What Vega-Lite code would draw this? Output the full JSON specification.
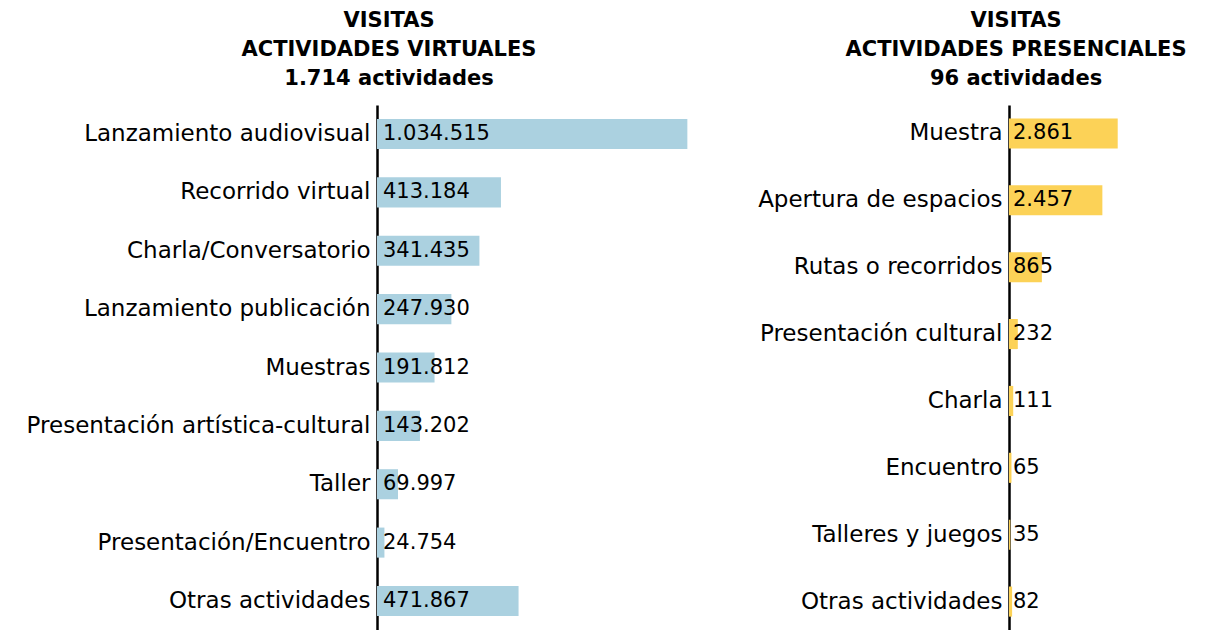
{
  "$schema": "https://vega.github.io/schema/vega-lite/v6.json",
  "padding": {"left": 26, "top": 10, "right": 5, "bottom": 0},
  "config": {
    "view": {"stroke": null},
    "font": "DejaVu Sans",
    "locale": {"number": {"decimal": ",", "thousands": ".", "grouping": [3], "currency": ["$", ""]}},
    "concat": {"spacing": 50},
    "title": {"fontSize": 21, "fontWeight": "bold", "lineHeight": 29, "color": "black", "anchor": "middle", "offset": 16}
  },
  "hconcat": [
    {
      "data": {"values": [
        {"actividad": "Lanzamiento audiovisual", "visitas": 1034515},
        {"actividad": "Recorrido virtual", "visitas": 413184},
        {"actividad": "Charla/Conversatorio", "visitas": 341435},
        {"actividad": "Lanzamiento publicación", "visitas": 247930},
        {"actividad": "Muestras", "visitas": 191812},
        {"actividad": "Presentación artística-cultural", "visitas": 143202},
        {"actividad": "Taller", "visitas": 69997},
        {"actividad": "Presentación/Encuentro", "visitas": 24754},
        {"actividad": "Otras actividades", "visitas": 471867}
      ]},
      "width": 330,
      "height": 525,
      "title": {"text": ["VISITAS", "ACTIVIDADES VIRTUALES", "1.714 actividades"], "dx": -153},
      "encoding": {
        "y": {"field": "actividad", "type": "nominal", "sort": null,
          "scale": {"paddingInner": 0.485, "paddingOuter": 0.24},
          "axis": {"title": null, "ticks": false, "labelFontSize": 23, "labelColor": "black", "labelPadding": 7, "labelLimit": 0, "domainColor": "black", "domainWidth": 2.5}}
      },
      "layer": [
        {"mark": {"type": "bar", "color": "#abd1e0"},
         "encoding": {"x": {"field": "visitas", "type": "quantitative", "scale": {"domain": [0, 1070000]}, "axis": null}}},
        {"mark": {"type": "text", "align": "left", "dx": 6, "fontSize": 21, "color": "black"},
         "encoding": {"x": {"datum": 0, "type": "quantitative"},
           "text": {"field": "visitas", "type": "quantitative", "format": ",d"}}}
      ]
    },
    {
      "data": {"values": [
        {"actividad": "Muestra", "visitas": 2861},
        {"actividad": "Apertura de espacios", "visitas": 2457},
        {"actividad": "Rutas o recorridos", "visitas": 865},
        {"actividad": "Presentación cultural", "visitas": 232},
        {"actividad": "Charla", "visitas": 111},
        {"actividad": "Encuentro", "visitas": 65},
        {"actividad": "Talleres y juegos", "visitas": 35},
        {"actividad": "Otras actividades", "visitas": 82}
      ]},
      "width": 190,
      "height": 525,
      "title": {"text": ["VISITAS", "ACTIVIDADES PRESENCIALES", "96 actividades"], "dx": -88},
      "encoding": {
        "y": {"field": "actividad", "type": "nominal", "sort": null,
          "scale": {"paddingInner": 0.55, "paddingOuter": 0.2},
          "axis": {"title": null, "ticks": false, "labelFontSize": 23, "labelColor": "black", "labelPadding": 7, "labelLimit": 0, "domainColor": "black", "domainWidth": 2.5}}
      },
      "layer": [
        {"mark": {"type": "bar", "color": "#fcd257"},
         "encoding": {"x": {"field": "visitas", "type": "quantitative", "scale": {"domain": [0, 4570]}, "axis": null}}},
        {"mark": {"type": "text", "align": "left", "dx": 4, "fontSize": 21, "color": "black"},
         "encoding": {"x": {"datum": 0, "type": "quantitative"},
           "text": {"field": "visitas", "type": "quantitative", "format": ",d"}}}
      ]
    }
  ]
}
